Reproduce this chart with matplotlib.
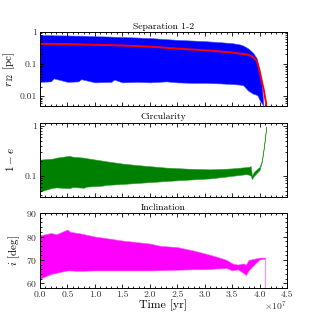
import matplotlib
matplotlib.use("Agg")
import matplotlib.pyplot as plt
from matplotlib.ticker import FuncFormatter, MultipleLocator, NullFormatter, LogLocator

plt.rcParams['font.family'] = 'serif'
plt.rcParams['font.serif'] = ['cmr10', 'DejaVu Serif']
plt.rcParams['mathtext.fontset'] = 'cm'
plt.rcParams['axes.formatter.use_mathtext'] = True
plt.rcParams['axes.unicode_minus'] = False

# time in units of 1e7 yr
# separation 1-2 [pc]
sep_t = [0.0, 0.2, 0.25, 0.5, 0.7, 0.75, 1.0, 1.3, 1.35, 1.5, 1.8, 2.0, 2.3, 2.5,
         2.8, 3.0, 3.3, 3.5, 3.64, 3.7, 3.79, 3.88, 3.95, 3.97, 4.0, 4.04, 4.07]
sep_hi = [0.80, 0.80, 0.79, 0.78, 0.77, 0.77, 0.74, 0.72, 0.71, 0.70, 0.67, 0.65, 0.60, 0.57,
          0.54, 0.52, 0.48, 0.45, 0.41, 0.38, 0.31, 0.226, 0.15, 0.099, 0.06, 0.024, 0.005]
sep_lo = [0.028, 0.029, 0.036, 0.028, 0.029, 0.034, 0.027, 0.028, 0.033, 0.027, 0.028, 0.027, 0.029, 0.027,
          0.026, 0.026, 0.025, 0.024, 0.023, 0.022, 0.015, 0.012, 0.011, 0.010, 0.0076, 0.006, 0.005]
mean_t = [0.0, 0.5, 1.0, 1.5, 2.0, 2.55, 3.0, 3.5, 3.76, 3.85, 3.9, 3.95, 4.0, 4.04, 4.08, 4.1, 4.12, 4.12]
mean_r = [0.43, 0.42, 0.40, 0.38, 0.35, 0.30, 0.27, 0.23, 0.20, 0.18, 0.155, 0.125, 0.063, 0.03,
          0.015, 0.009, 0.006, 0.001]

# circularity 1-e
circ_t = [0.0, 0.23, 0.3, 0.53, 0.6, 0.8, 0.84, 1.14, 1.2, 1.5, 1.75, 2.0, 2.3, 2.7, 3.1,
          3.4, 3.5, 3.75, 3.8, 3.84, 3.86, 3.9, 4.0, 4.04, 4.07, 4.1, 4.12]
circ_hi = [0.21, 0.22, 0.23, 0.25, 0.24, 0.23, 0.225, 0.20, 0.195, 0.175, 0.164, 0.155, 0.145,
           0.138, 0.134, 0.138, 0.14, 0.148, 0.15, 0.155, 0.10, 0.12, 0.15, 0.2, 0.33, 0.6, 0.97]
circ_lo = [0.048, 0.057, 0.058, 0.056, 0.059, 0.057, 0.06, 0.063, 0.065, 0.068, 0.071, 0.074,
           0.078, 0.083, 0.088, 0.096, 0.099, 0.107, 0.105, 0.1, 0.085, 0.1, 0.13, 0.19, 0.32, 0.58, 0.93]

# inclination [deg]
incl_t = [0.0, 0.1, 0.2, 0.3, 0.5, 0.55, 0.7, 1.0, 1.3, 1.5, 2.0, 2.2, 2.5, 2.8, 3.0,
          3.2, 3.4, 3.5, 3.6, 3.7, 3.75, 3.8, 3.9, 4.0, 4.1]
incl_hi = [80.5, 81.0, 81.5, 81.0, 83.0, 82.0, 81.5, 80.0, 79.0, 78.3, 77.0, 76.0, 75.5, 74.0,
           72.8, 71.5, 70.0, 68.5, 68.0, 68.5, 68.0, 70.0, 70.5, 71.0, 71.0]
incl_lo = [62.0, 63.0, 64.0, 64.5, 65.5, 65.5, 65.3, 65.5, 65.5, 65.5, 65.5, 65.6, 65.8, 66.0,
           66.0, 66.3, 66.5, 65.5, 66.0, 64.5, 63.5, 65.5, 68.0, 70.2, 70.5]
incl_end_t = [4.1, 4.1]
incl_end = [70.5, 50.0]

t_ticks = [0.0, 0.5, 1.0, 1.5, 2.0, 2.5, 3.0, 3.5, 4.0, 4.5]


def sc(v):
    return [x * 1e7 for x in v]


fig = plt.figure(figsize=(3.2, 3.2), dpi=100)
ax1 = fig.add_axes([0.125, 0.669, 0.772, 0.231])
ax2 = fig.add_axes([0.125, 0.384, 0.772, 0.232])
ax3 = fig.add_axes([0.125, 0.100, 0.772, 0.234])

ax1.fill_between(sc(sep_t), sep_lo, sep_hi, color='#0000ff', lw=0.4, edgecolor='#4455ff')
ax1.plot(sc(mean_t), mean_r, color='red', lw=1.4)
ax1.set_yscale('log')
ax1.set_ylim(0.005, 1)
ax1.set_title('Separation 1-2', fontsize=7, pad=2.5)
ax1.set_ylabel(r'$r_{12}$ [pc]', fontsize=8, labelpad=2)

ax2.fill_between(sc(circ_t), circ_lo, circ_hi, color='#008000', lw=0.4, edgecolor='#33a033')
ax2.set_yscale('log')
ax2.set_ylim(0.037, 1.15)
ax2.set_title('Circularity', fontsize=7, pad=2.5)
ax2.set_ylabel(r'$1-e$', fontsize=8, labelpad=6)

ax3.fill_between(sc(incl_t), incl_lo, incl_hi, color='#ff00ff', lw=0.4, edgecolor='#ff55ff')
ax3.plot(sc(incl_end_t), incl_end, color='#ff88ff', lw=0.8)
ax3.set_ylim(58, 90)
ax3.yaxis.set_major_locator(MultipleLocator(10))
ax3.yaxis.set_minor_locator(MultipleLocator(2))
ax3.set_title('Inclination', fontsize=7, pad=2.5)
ax3.set_ylabel(r'$i$ [deg]', fontsize=8, labelpad=3)
ax3.set_xlabel('Time [yr]', fontsize=8.5, labelpad=0)

for ax in (ax1, ax2):
    ax.yaxis.set_major_locator(LogLocator(base=10))
    ax.yaxis.set_major_formatter(FuncFormatter(lambda v, p: '%g' % v))
    ax.yaxis.set_minor_formatter(NullFormatter())

for ax in (ax1, ax2, ax3):
    ax.set_xlim(0, 4.5e7)
    ax.set_xticks(sc(t_ticks))
    ax.xaxis.set_minor_locator(MultipleLocator(0.1e7))
    ax.tick_params(which='both', direction='in', top=True, right=True, labelsize=7,
                   labelcolor='#333333', width=0.6, pad=2)
    ax.tick_params(which='major', length=3)
    ax.tick_params(which='minor', length=1.5)
    for s in ax.spines.values():
        s.set_linewidth(0.7)

ax1.tick_params(labelbottom=False)
ax2.tick_params(labelbottom=False)
ax3.xaxis.set_major_formatter(FuncFormatter(lambda v, p: '%.1f' % (v / 1e7)))
ax3.text(1.0, -0.15, r'$\times10^{7}$', transform=ax3.transAxes, ha='right', va='top',
         fontsize=7, color='#333333')

fig.savefig('out.png', dpi=100)
